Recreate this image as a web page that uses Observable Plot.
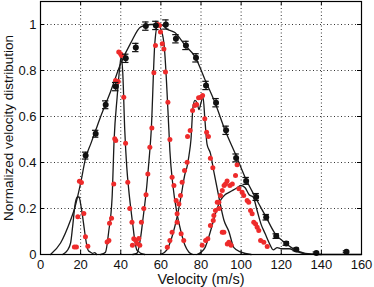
<!DOCTYPE html>
<html><head><meta charset="utf-8">
<script src="https://cdn.jsdelivr.net/npm/d3@7"></script>
<script src="https://cdn.jsdelivr.net/npm/@observablehq/plot@0.6"></script>
<style>body{margin:0;background:#fff}</style>
</head><body><div id="chart"></div>
<script>
const xTicks = [0,20,40,60,80,100,120,140,160];
const yTicks = [0,0.2,0.4,0.6,0.8,1];

// black measured points with error bars
const blackV = [22.5,27.5,32.5,37.5,42.5,47.5,52.5,57.5,62.5,67.5,72.5,77.5,82.5,87.5,92.5,97.5,102.5,107.5,112.5,117.5,122.5,127.5,137.5,152.5];
const blackD = [0.43,0.525,0.651,0.73,0.853,0.90,0.993,0.996,1.0,0.938,0.909,0.855,0.735,0.66,0.54,0.42,0.32,0.25,0.162,0.08,0.048,0.022,0.007,0.012];
const blackE = [0.015,0.015,0.017,0.018,0.018,0.018,0.018,0.018,0.02,0.018,0.018,0.018,0.018,0.018,0.018,0.017,0.015,0.015,0.012,0.01,0.008,0.006,0.004,0.004];

// black broad fit
const fitAllV = [5,10,15,17,20,22.5,25,27.5,30,35,40,45,50,55,60,63,67,72,77,82,87,92,97,102,107,112,117,122,127,132,140,160];
const fitAllD = [0,0.05,0.15,0.2,0.31,0.42,0.48,0.54,0.6,0.71,0.83,0.92,0.99,1.0,1.0,0.98,0.965,0.91,0.86,0.76,0.66,0.54,0.44,0.335,0.25,0.17,0.09,0.05,0.02,0.005,0,0];

// narrow fits
const fit1V = [11,13.3,15,16,17.4,18.5,19.2,20,20.8,22,23.3,24,25,26,27,28];
const fit1D = [0,0.017,0.05,0.12,0.227,0.25,0.25,0.22,0.177,0.1,0.03,0.015,0.01,0.005,0.008,0];
const fit2V = [30,32.4,34,35.7,36.7,38.2,39.5,40.2,41,42,43,44,45,46,47,48,49,50,52];
const fit2D = [0,0.01,0.1,0.25,0.5,0.684,0.814,0.86,0.79,0.54,0.38,0.28,0.2,0.13,0.06,0.02,0.012,0.005,0];
const fit3V = [46,48,50,51,52,53,54,55.2,57,58.5,59.5,61.5,64,64.5,66,68,70,72,74,76];
const fit3D = [0,0.005,0.08,0.15,0.22,0.3,0.4,0.54,0.92,1.0,0.99,0.92,0.54,0.45,0.3,0.18,0.1,0.04,0.01,0];
const fit4V = [60,63,66,68,70,72,73,74,75,76,77,78,79,80,81,82,83,84.7,86.4,88.9,91.4,93.9,96.4,100,105];
const fit4D = [0,0.02,0.09,0.16,0.25,0.35,0.38,0.43,0.5,0.64,0.67,0.66,0.63,0.66,0.685,0.58,0.48,0.44,0.36,0.25,0.15,0.1,0.03,0.01,0];
const fit5V = [78,80,82,84,86,88,90,92,94,96,98,100,102,104,106,108,110,112,114,116,118,120,124,127,132,140];
const fit5D = [0,0.01,0.03,0.08,0.14,0.2,0.24,0.26,0.27,0.28,0.29,0.3,0.29,0.26,0.25,0.19,0.13,0.09,0.05,0.02,0.03,0.025,0.025,0.015,0.003,0];

// red measured points
const redV = [16.9,17.9,18.6,19.4,20.4,21.6,22.4,23.6,
  33.2,34.1,34.4,35.4,36.5,37.0,37.5,37.4,38.7,39.0,39.9,40.4,41.5,42.4,43.5,44.5,45.6,46.5,45.8,47.4,48.2,49.0,49.5,
  50.3,51.5,52.6,53.5,54.5,55.5,56.5,57.3,58.5,59.3,59.8,60.7,61.5,62.3,63.5,64.5,65.6,66.5,67.6,68.1,70.1,71.4,
  63.2,64.5,65.6,68.1,69.0,69.8,70.6,71.8,73.1,73.3,74.6,75.8,76.9,77.8,78.8,79.9,80.8,81.9,82.8,83.7,84.7,85.9,88.1,89.0,90.6,91.4,93.1,93.9,95.0,
  80.6,82.3,83.4,84.7,86.1,86.4,87.2,88.9,89.7,90.6,91.5,92.2,93.0,94.4,95.6,97.2,98.0,98.9,100.5,101.3,103.0,103.8,104.7,105.5,106.3,107.2,108.0,108.8,109.7,111.3,113.0];
const redD = [0.033,0.033,0.164,0.319,0.313,0.178,0.077,0.036,
  0.054,0.061,0.136,0.158,0.307,0.503,0.496,0.757,0.752,0.88,0.873,0.865,0.684,0.484,0.314,0.2,0.14,0.068,0.04,0.062,0.048,0.07,0.04,
  0.14,0.2,0.26,0.35,0.466,0.55,0.79,0.909,1.0,0.996,0.967,0.916,0.894,0.793,0.662,0.5,0.336,0.3,0.235,0.14,0.09,0.061,
  0.032,0.061,0.097,0.177,0.22,0.257,0.314,0.365,0.401,0.513,0.539,0.626,0.648,0.652,0.681,0.684,0.691,0.59,0.532,0.513,0.419,0.377,0.227,0.2,0.097,0.097,0.046,0.053,0.04,
  0.04,0.061,0.068,0.126,0.148,0.17,0.191,0.227,0.257,0.278,0.3,0.307,0.32,0.3,0.307,0.343,0.39,0.286,0.271,0.257,0.235,0.227,0.191,0.177,0.14,0.133,0.119,0.104,0.061,0.053,0.035];

const toPts = (V, D) => V.map((v, i) => ({v, d: D[i]}));
const black = blackV.map((v, i) => ({v, d: blackD[i], e: blackE[i]}));
const red = toPts(redV, redD);
const fits = [[fitAllV, fitAllD], [fit1V, fit1D], [fit2V, fit2D], [fit3V, fit3D], [fit4V, fit4D], [fit5V, fit5D]]
  .flatMap(([V, D], k) => V.map((v, i) => ({v, d: D[i], k})));

const lineCol = "#1a1a1a";
const chart = Plot.plot({
  width: 374, height: 287,
  marginLeft: 40, marginRight: 13, marginTop: 1, marginBottom: 33,
  style: {fontFamily: "'Liberation Sans Narrow', 'Liberation Sans', Arial, sans-serif", fontSize: "13px", color: "#111", background: "#fff"},
  x: {domain: [0, 160]},
  y: {domain: [0, 1.1]},
  marks: [
    Plot.ruleX(xTicks.slice(1, -1), {stroke: "#333", strokeDasharray: "1,2.5", strokeWidth: 1}),
    Plot.ruleY(yTicks.slice(1), {stroke: "#333", strokeDasharray: "1,2.5", strokeWidth: 1}),
    Plot.line(fits, {x: "v", y: "d", z: "k", stroke: lineCol, strokeWidth: 1.3, curve: "monotone-x"}),
    Plot.dot(red, {x: "v", y: "d", r: 2.5, fill: "#ee2b2b", stroke: "none"}),
    Plot.ruleX(black, {x: "v", y1: d => d.d - d.e, y2: d => d.d + d.e, stroke: "#111", strokeWidth: 1.2}),
    Plot.ruleY(black, {y: d => d.d - d.e, x1: d => d.v - 1.6, x2: d => d.v + 1.6, stroke: "#111", strokeWidth: 1.2}),
    Plot.ruleY(black, {y: d => d.d + d.e, x1: d => d.v - 1.6, x2: d => d.v + 1.6, stroke: "#111", strokeWidth: 1.2}),
    Plot.dot(black, {x: "v", y: "d", r: 3, fill: "#111", stroke: "none"}),
    // inward ticks on all four sides
    Plot.ruleX(xTicks, {y1: 0, y2: 0.018, stroke: "#000"}),
    Plot.ruleX(xTicks, {y1: 1.1, y2: 1.082, stroke: "#000"}),
    Plot.ruleY(yTicks, {x1: 0, x2: 2, stroke: "#000"}),
    Plot.ruleY(yTicks, {x1: 160, x2: 158, stroke: "#000"}),
    Plot.axisX({ticks: xTicks, tickSize: 0, tickPadding: 5, tickFormat: d => String(d), fontSize: 13,
      label: null}),
    Plot.axisY({ticks: yTicks, tickSize: 0, tickPadding: 4, tickFormat: d => String(d), fontSize: 13,
      label: null}),
    Plot.text(["Velocity (m/s)"], {frameAnchor: "bottom", dy: 29, fontSize: 14.5, fontFamily: "'Liberation Sans', Arial, sans-serif", fill: "#111"}),
    Plot.text(["Normalized velocity distribution"], {frameAnchor: "left", dx: -32, dy: 0, rotate: -90, textAnchor: "middle", fontSize: 13.5, fontFamily: "'Liberation Sans', Arial, sans-serif", fill: "#111"}),
    Plot.frame({stroke: "#000", strokeWidth: 1.2})
  ]
});
document.getElementById("chart").appendChild(chart);
</script>
</body></html>
